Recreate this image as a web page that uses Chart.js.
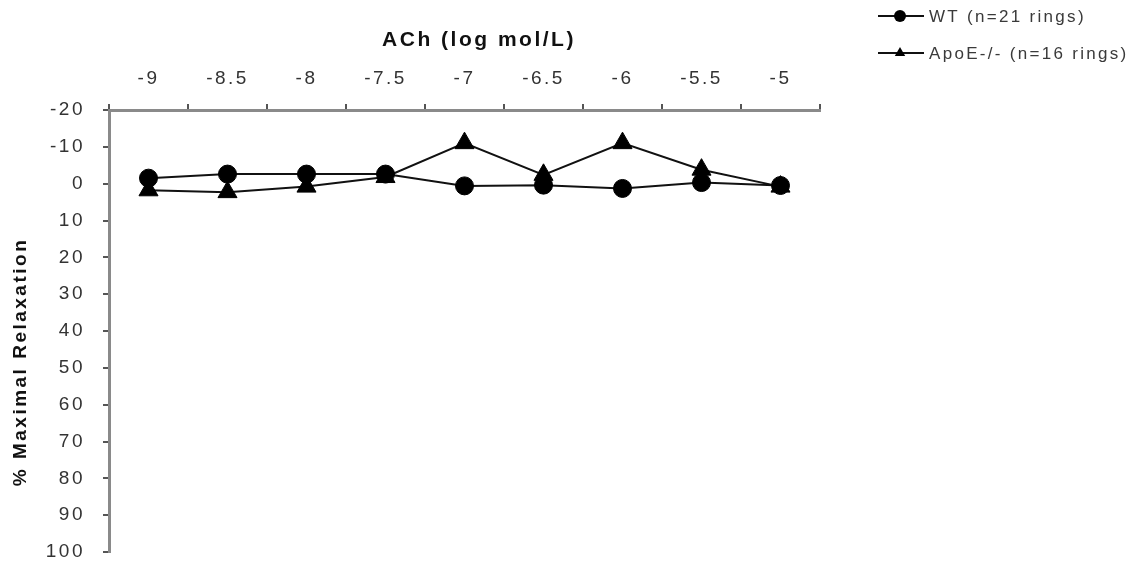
<!DOCTYPE html>
<html>
<head>
<meta charset="utf-8">
<script src="https://cdn.jsdelivr.net/npm/chart.js@4/dist/chart.umd.min.js"></script>
<style>
  html, body { margin: 0; padding: 0; background: #fff; }
  #wrap { width: 1147px; height: 566px; }
</style>
</head>
<body>
<div id="wrap"><canvas id="myChart" width="1147" height="566"></canvas></div>
<script>
var doses = ['-9', '-8.5', '-8', '-7.5', '-7', '-6.5', '-6', '-5.5', '-5'];
var wtValues = [-1.5, -2.6, -2.6, -2.6, 0.6, 0.4, 1.3, -0.3, 0.5];
var apoeValues = [1.8, 2.3, 0.8, -1.8, -11, -2.4, -11, -3.8, 0.8];
var yTicks = [-20, -10, 0, 10, 20, 30, 40, 50, 60, 70, 80, 90, 100];
var seriesNames = ['WT (n=21 rings)', 'ApoE-/- (n=16 rings)'];

var FONT = "'Liberation Sans', Arial, sans-serif";

// the reference text is widely tracked, so add letter spacing to the canvas
var spacing = {
  id: 'spacing',
  beforeLayout: function (chart) { chart.ctx.letterSpacing = '2.5px'; },
  beforeDraw: function (chart) { chart.ctx.letterSpacing = '2.5px'; }
};

// legend at top right (line + marker), and the two axis titles
var extras = {
  id: 'extras',
  afterDraw: function (chart) {
    var ctx = chart.ctx;
    ctx.save();
    ctx.letterSpacing = '2.3px';
    chart.data.datasets.forEach(function (ds, i) {
      var y = 16 + i * 37;
      ctx.strokeStyle = '#111';
      ctx.lineWidth = 2;
      ctx.beginPath();
      ctx.moveTo(878, y);
      ctx.lineTo(924, y);
      ctx.stroke();
      ctx.fillStyle = '#000';
      Chart.helpers.drawPoint(ctx, { pointStyle: ds.pointStyle, radius: 6, rotation: 0 }, 900, y);
      ctx.fillStyle = '#3a3a3a';
      ctx.font = '17px ' + FONT;
      ctx.textAlign = 'left';
      ctx.textBaseline = 'middle';
      ctx.fillText(ds.label, 929, y + 1);
    });

    ctx.letterSpacing = '2.5px';
    ctx.fillStyle = '#111';
    ctx.font = 'bold 21px ' + FONT;
    ctx.textAlign = 'center';
    ctx.textBaseline = 'middle';
    ctx.fillText('ACh (log mol/L)', 479, 40);

    ctx.translate(21, 362);
    ctx.rotate(-Math.PI / 2);
    ctx.font = 'bold 19px ' + FONT;
    ctx.fillText('% Maximal Relaxation', 0, 0);
    ctx.restore();
  }
};

function makeChart() {
  var ctx = document.getElementById('myChart').getContext('2d');
  var myChart = new Chart(ctx, {
    type: 'line',
    data: {
      labels: doses,
      datasets: [{
        label: seriesNames[0],
        data: wtValues,
        borderColor: '#111',
        borderWidth: 2,
        backgroundColor: '#000',
        pointStyle: 'circle',
        pointRadius: 9,
        pointBorderWidth: 1,
        pointBorderColor: '#000',
        tension: 0
      }, {
        label: seriesNames[1],
        data: apoeValues,
        borderColor: '#111',
        borderWidth: 2,
        backgroundColor: '#000',
        pointStyle: 'triangle',
        pointRadius: 11,
        pointBorderWidth: 1,
        pointBorderColor: '#000',
        tension: 0
      }]
    },
    options: {
      responsive: false,
      animation: false,
      devicePixelRatio: 1,
      layout: { padding: { left: 0, right: 327, top: 0, bottom: 14 } },
      plugins: {
        legend: { display: false },
        tooltip: { enabled: false }
      },
      scales: {
        x: {
          type: 'category',
          position: 'top',
          offset: true,
          afterFit: function (s) { s.height = 110; },
          grid: {
            offset: true,
            drawOnChartArea: false,
            drawTicks: true,
            tickLength: 6,
            color: '#555',
            lineWidth: 2
          },
          border: { display: true, color: '#8a8a8a', width: 3 },
          ticks: {
            color: '#333',
            font: { family: FONT, size: 19 },
            padding: 14,
            maxRotation: 0,
            autoSkip: false
          }
        },
        y: {
          type: 'linear',
          reverse: true,
          min: -20,
          max: 100,
          afterFit: function (s) {
            s.width = 109;
            s.paddingTop = 0;
            s.paddingBottom = 0;
          },
          afterBuildTicks: function (s) {
            s.ticks = yTicks.map(function (v) { return { value: v }; });
          },
          grid: {
            drawOnChartArea: false,
            drawTicks: true,
            tickLength: 6,
            color: '#555',
            lineWidth: 2
          },
          border: { display: true, color: '#8a8a8a', width: 3 },
          ticks: {
            color: '#333',
            font: { family: FONT, size: 19 },
            padding: 18,
            callback: function (v) { return String(v); }
          }
        }
      }
    },
    plugins: [spacing, extras]
  });
}

makeChart();
</script>
</body>
</html>
